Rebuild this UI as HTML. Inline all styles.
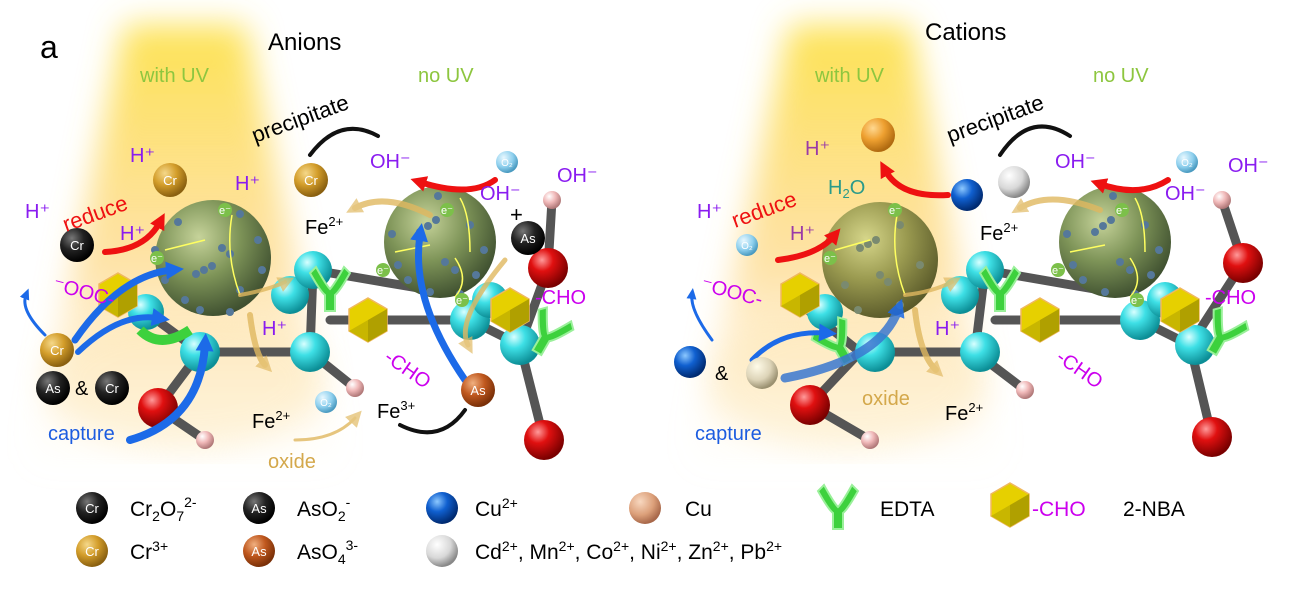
<!DOCTYPE html>
<html><head><meta charset="utf-8">
<style>
html,body{margin:0;padding:0;background:#fff;}
svg{display:block;font-family:"Liberation Sans",Arial,sans-serif;}
</style></head>
<body>
<svg width="1293" height="597" viewBox="0 0 1293 597" xmlns="http://www.w3.org/2000/svg">
<defs>
 <linearGradient id="beam" x1="0" y1="0" x2="0" y2="1">
  <stop offset="0" stop-color="#fde24a" stop-opacity="0.95"/>
  <stop offset="0.55" stop-color="#fdd070" stop-opacity="0.6"/>
  <stop offset="1" stop-color="#fff0d0" stop-opacity="0"/>
 </linearGradient>
 <filter id="blur"><feGaussianBlur stdDeviation="16"/></filter>
 <radialGradient id="olive" cx="0.38" cy="0.32" r="0.7">
  <stop offset="0" stop-color="#c6d39a"/><stop offset="0.5" stop-color="#7e9458"/><stop offset="1" stop-color="#3f5030"/>
 </radialGradient>
 <radialGradient id="olive2" cx="0.38" cy="0.32" r="0.7">
  <stop offset="0" stop-color="#d6d68a"/><stop offset="0.5" stop-color="#9a9a50"/><stop offset="1" stop-color="#5a5a2a"/>
 </radialGradient>
 <radialGradient id="cyan" cx="0.35" cy="0.3" r="0.7">
  <stop offset="0" stop-color="#d8ffff"/><stop offset="0.4" stop-color="#3ee0e6"/><stop offset="1" stop-color="#0c8e96"/>
 </radialGradient>
 <radialGradient id="red" cx="0.35" cy="0.3" r="0.7">
  <stop offset="0" stop-color="#ff9a9a"/><stop offset="0.4" stop-color="#e01010"/><stop offset="1" stop-color="#7a0000"/>
 </radialGradient>
 <radialGradient id="pink" cx="0.35" cy="0.3" r="0.7">
  <stop offset="0" stop-color="#fff"/><stop offset="0.5" stop-color="#f0b8b8"/><stop offset="1" stop-color="#b07878"/>
 </radialGradient>
 <radialGradient id="blk" cx="0.35" cy="0.3" r="0.7">
  <stop offset="0" stop-color="#777"/><stop offset="0.5" stop-color="#222"/><stop offset="1" stop-color="#000"/>
 </radialGradient>
 <radialGradient id="gold" cx="0.35" cy="0.3" r="0.7">
  <stop offset="0" stop-color="#f5d88a"/><stop offset="0.5" stop-color="#d39d2a"/><stop offset="1" stop-color="#8a6010"/>
 </radialGradient>
 <radialGradient id="orng" cx="0.35" cy="0.3" r="0.7">
  <stop offset="0" stop-color="#f0b080"/><stop offset="0.5" stop-color="#c0581e"/><stop offset="1" stop-color="#7a3008"/>
 </radialGradient>
 <radialGradient id="orball" cx="0.35" cy="0.3" r="0.7">
  <stop offset="0" stop-color="#ffd890"/><stop offset="0.5" stop-color="#eea030"/><stop offset="1" stop-color="#b06a10"/>
 </radialGradient>
 <radialGradient id="blue" cx="0.35" cy="0.3" r="0.7">
  <stop offset="0" stop-color="#8cc8ff"/><stop offset="0.45" stop-color="#1060d0"/><stop offset="1" stop-color="#002a70"/>
 </radialGradient>
 <radialGradient id="white" cx="0.35" cy="0.3" r="0.7">
  <stop offset="0" stop-color="#fff"/><stop offset="0.6" stop-color="#d8d8d8"/><stop offset="1" stop-color="#888"/>
 </radialGradient>
 <radialGradient id="beige" cx="0.35" cy="0.3" r="0.7">
  <stop offset="0" stop-color="#fffbe8"/><stop offset="0.6" stop-color="#ddd4b8"/><stop offset="1" stop-color="#9a9070"/>
 </radialGradient>
 <radialGradient id="copper" cx="0.35" cy="0.3" r="0.7">
  <stop offset="0" stop-color="#f8d8c0"/><stop offset="0.6" stop-color="#dca07a"/><stop offset="1" stop-color="#a8684a"/>
 </radialGradient>
 <radialGradient id="o2" cx="0.35" cy="0.3" r="0.7">
  <stop offset="0" stop-color="#e8f8ff"/><stop offset="0.6" stop-color="#8fd0ee"/><stop offset="1" stop-color="#4a9ac0"/>
 </radialGradient>
 <marker id="ar" markerUnits="userSpaceOnUse" markerWidth="18" markerHeight="18" refX="6" refY="9" orient="auto"><path d="M0,1 L16,9 L0,17 z" fill="#ee1111"/></marker>
 <marker id="ab" markerUnits="userSpaceOnUse" markerWidth="20" markerHeight="20" refX="6" refY="10" orient="auto"><path d="M0,1 L18,10 L0,19 z" fill="#1c6ae8"/></marker>
 <marker id="abs" markerUnits="userSpaceOnUse" markerWidth="12" markerHeight="12" refX="4" refY="6" orient="auto"><path d="M0,1 L11,6 L0,11 z" fill="#1c6ae8"/></marker>
 <marker id="ay" markerUnits="userSpaceOnUse" markerWidth="18" markerHeight="18" refX="6" refY="9" orient="auto"><path d="M0,1 L16,9 L0,17 z" fill="#e0b860" opacity="0.85"/></marker>
 <g id="hex"><polygon points="0,-22 19,-11 19,11 0,22 -19,11 -19,-11" fill="#e6d000" stroke="#f0b860" stroke-width="1.5"/><polygon points="0,0 19,-11 19,11 0,22" fill="#b0a000"/><polygon points="0,0 0,22 -19,11" fill="#c8b600"/></g>
 <g id="edta"><path d="M-14,-18 Q-4,0 0,4 Q4,0 14,-18 L20,-12 Q10,6 5,10 L5,26 L-5,26 L-5,10 Q-10,6 -20,-12 Z" fill="#3dd13d" stroke="#9af09a" stroke-width="2"/></g>
</defs>

<!-- light beams -->
<polygon points="125,25 245,25 340,470 30,470" fill="url(#beam)" filter="url(#blur)"/>
<ellipse cx="185" cy="380" rx="140" ry="70" fill="#fde0a0" opacity="0.35" filter="url(#blur)"/>
<polygon points="790,25 910,25 1000,470 690,470" fill="url(#beam)" filter="url(#blur)"/>
<ellipse cx="848" cy="380" rx="140" ry="70" fill="#fde0a0" opacity="0.35" filter="url(#blur)"/>

<!-- LEFT STRUCTURE -->
<g stroke="#555" stroke-width="9" stroke-linecap="round">
 <line x1="146" y1="312" x2="200" y2="352"/><line x1="200" y1="352" x2="310" y2="352"/>
 <line x1="310" y1="352" x2="313" y2="270"/><line x1="313" y1="270" x2="430" y2="290"/>
 <line x1="310" y1="352" x2="355" y2="388"/><line x1="200" y1="352" x2="158" y2="408"/>
 <line x1="158" y1="408" x2="205" y2="440"/><line x1="330" y1="320" x2="470" y2="320"/>
 <line x1="470" y1="320" x2="520" y2="345"/><line x1="520" y1="345" x2="544" y2="440"/>
 <line x1="520" y1="345" x2="548" y2="268"/><line x1="548" y1="268" x2="552" y2="200"/>
</g>
<circle cx="146" cy="312" r="18" fill="url(#cyan)"/>
<circle cx="200" cy="352" r="20" fill="url(#cyan)"/>
<circle cx="290" cy="295" r="19" fill="url(#cyan)"/>
<circle cx="313" cy="270" r="19" fill="url(#cyan)"/>
<circle cx="310" cy="352" r="20" fill="url(#cyan)"/>
<circle cx="470" cy="320" r="20" fill="url(#cyan)"/>
<circle cx="490" cy="300" r="18" fill="url(#cyan)"/>
<circle cx="520" cy="345" r="20" fill="url(#cyan)"/>
<use href="#hex" x="118" y="295"/>
<use href="#hex" x="368" y="320"/>
<use href="#hex" x="510" y="310"/>
<use href="#edta" x="330" y="285"/>
<use href="#edta" x="550" y="330" transform="rotate(30 550 330)"/>
<path d="M140,330 Q160,350 190,330" stroke="#3dd13d" stroke-width="10" fill="none"/>
<circle cx="158" cy="408" r="20" fill="url(#red)"/>
<circle cx="548" cy="268" r="20" fill="url(#red)"/>
<circle cx="544" cy="440" r="20" fill="url(#red)"/>
<circle cx="205" cy="440" r="9" fill="url(#pink)"/>
<circle cx="355" cy="388" r="9" fill="url(#pink)"/>
<circle cx="552" cy="200" r="9" fill="url(#pink)"/>

<!-- left spheres -->
<circle cx="213" cy="258" r="58" fill="url(#olive)"/>
<circle cx="440" cy="242" r="56" fill="url(#olive)"/>
<g fill="#55789a">
 <circle cx="178" cy="222" r="4"/><circle cx="196" cy="274" r="4"/><circle cx="204" cy="270" r="4"/><circle cx="212" cy="266" r="4"/>
 <circle cx="222" cy="248" r="4"/><circle cx="230" cy="254" r="4"/><circle cx="240" cy="290" r="4"/><circle cx="165" cy="280" r="4"/>
 <circle cx="258" cy="240" r="4"/><circle cx="262" cy="270" r="4"/><circle cx="200" cy="310" r="4"/><circle cx="185" cy="300" r="4"/>
 <circle cx="240" cy="214" r="4"/><circle cx="155" cy="250" r="4"/><circle cx="230" cy="312" r="4"/>
 <circle cx="420" cy="232" r="4"/><circle cx="428" cy="226" r="4"/><circle cx="436" cy="220" r="4"/><circle cx="445" cy="262" r="4"/>
 <circle cx="455" cy="270" r="4"/><circle cx="398" cy="265" r="4"/><circle cx="408" cy="280" r="4"/><circle cx="470" cy="225" r="4"/>
 <circle cx="484" cy="250" r="4"/><circle cx="430" cy="292" r="4"/><circle cx="460" cy="294" r="4"/><circle cx="392" cy="234" r="4"/>
 <circle cx="438" cy="196" r="4"/><circle cx="476" cy="275" r="4"/>
</g>
<g fill="none" stroke="#ffff60" stroke-width="1.5">
 <path d="M240,295 Q225,255 232,215"/><path d="M205,240 L165,250"/>
 <path d="M470,252 Q470,215 460,198"/><path d="M430,245 L395,252"/><path d="M455,258 Q470,280 455,297"/>
</g>
<g font-size="11" fill="#fff" text-anchor="middle">
 <circle cx="157" cy="258" r="7" fill="#7cc04a"/><text x="157" y="262">e⁻</text>
 <circle cx="225" cy="210" r="7" fill="#7cc04a"/><text x="225" y="214">e⁻</text>
 <circle cx="447" cy="210" r="7" fill="#7cc04a"/><text x="447" y="214">e⁻</text>
 <circle cx="383" cy="270" r="7" fill="#7cc04a"/><text x="383" y="274">e⁻</text>
 <circle cx="462" cy="300" r="7" fill="#7cc04a"/><text x="462" y="304">e⁻</text>
</g>

<!-- left arrows -->
<g fill="none" stroke-linecap="round">
 <path d="M105,252 Q145,250 160,222" stroke="#ee1111" stroke-width="6" marker-end="url(#ar)"/>
 <path d="M495,180 Q470,198 420,182" stroke="#ee1111" stroke-width="6" marker-end="url(#ar)"/>
 <path d="M378,136 Q340,115 310,155" stroke="#111" stroke-width="4"/>
 <path d="M465,410 Q440,445 400,425" stroke="#111" stroke-width="4"/>
 <path d="M75,340 Q120,275 172,270" stroke="#1c6ae8" stroke-width="7" marker-end="url(#ab)"/>
 <path d="M78,352 Q120,312 158,318" stroke="#1c6ae8" stroke-width="6" marker-end="url(#ab)"/>
 <path d="M130,440 Q200,420 205,345" stroke="#1c6ae8" stroke-width="8" marker-end="url(#ab)"/>
 <path d="M45,335 Q20,310 26,295" stroke="#1c6ae8" stroke-width="3" marker-end="url(#abs)"/>
 <path d="M465,380 Q410,300 420,235" stroke="#1c6ae8" stroke-width="7" marker-end="url(#ab)"/>
 <path d="M430,215 Q385,192 355,208" stroke="#e0b860" stroke-width="6" opacity="0.8" marker-end="url(#ay)"/>
 <path d="M240,295 Q268,290 285,282" stroke="#e0b860" stroke-width="4" opacity="0.8" marker-end="url(#ay)"/>
 <path d="M250,315 Q255,355 265,365" stroke="#e0b860" stroke-width="6" opacity="0.8" marker-end="url(#ay)"/>
 <path d="M505,260 Q455,320 468,345" stroke="#e0b860" stroke-width="5" opacity="0.8" marker-end="url(#ay)"/>
 <path d="M295,440 Q335,440 355,418" stroke="#e0b860" stroke-width="3" opacity="0.8" marker-end="url(#ay)"/>
</g>

<!-- left ions -->
<g font-size="13" fill="#fff" text-anchor="middle">
 <circle cx="170" cy="180" r="17" fill="url(#gold)"/><text x="170" y="185">Cr</text>
 <circle cx="311" cy="180" r="17" fill="url(#gold)"/><text x="311" y="185">Cr</text>
 <circle cx="77" cy="245" r="17" fill="url(#blk)"/><text x="77" y="250">Cr</text>
 <circle cx="57" cy="350" r="17" fill="url(#gold)"/><text x="57" y="355">Cr</text>
 <circle cx="53" cy="388" r="17" fill="url(#blk)"/><text x="53" y="393">As</text>
 <circle cx="112" cy="388" r="17" fill="url(#blk)"/><text x="112" y="393">Cr</text>
 <circle cx="528" cy="238" r="17" fill="url(#blk)"/><text x="528" y="243">As</text>
 <circle cx="478" cy="390" r="17" fill="url(#orng)"/><text x="478" y="395">As</text>
 <circle cx="507" cy="162" r="11" fill="url(#o2)"/><text x="507" y="166" font-size="10">O₂</text>
 <circle cx="326" cy="402" r="11" fill="url(#o2)"/><text x="326" y="406" font-size="10">O₂</text>
</g>

<!-- left labels -->
<g font-size="20">
 <text x="40" y="58" font-size="32">a</text>
 <text x="268" y="50" font-size="24">Anions</text>
 <text x="140" y="82" fill="#8dc63f">with UV</text>
 <text x="418" y="82" fill="#8dc63f">no UV</text>
 <text x="255" y="143" font-size="22" transform="rotate(-20 255 143)">precipitate</text>
 <text x="66" y="232" fill="#ee1111" font-size="22" transform="rotate(-20 66 232)">reduce</text>
 <g fill="#8a1cf0">
  <text x="130" y="162">H⁺</text><text x="25" y="218">H⁺</text><text x="120" y="240">H⁺</text>
  <text x="235" y="190">H⁺</text><text x="262" y="335">H⁺</text>
  <text x="370" y="168">OH⁻</text><text x="480" y="200">OH⁻</text><text x="557" y="182">OH⁻</text>
 </g>
 <text x="510" y="222" font-size="22">+</text>
 <g fill="#cc00ee">
  <text x="52" y="290" transform="rotate(15 52 290)">⁻OOC-</text>
  <text x="383" y="360" transform="rotate(35 383 360)">-CHO</text>
  <text x="535" y="304">-CHO</text>
 </g>
 <text x="305" y="234">Fe<tspan font-size="13" dy="-8">2+</tspan></text>
 <text x="252" y="428">Fe<tspan font-size="13" dy="-8">2+</tspan></text>
 <text x="377" y="418">Fe<tspan font-size="13" dy="-8">3+</tspan></text>
 <text x="268" y="468" fill="#d4a84b">oxide</text>
 <text x="48" y="440" fill="#1c5ce0">capture</text>
</g>

<!-- RIGHT STRUCTURE -->
<g stroke="#555" stroke-width="9" stroke-linecap="round">
 <line x1="810" y1="312" x2="860" y2="352"/><line x1="860" y1="352" x2="975" y2="352"/>
 <line x1="975" y1="352" x2="985" y2="270"/><line x1="985" y1="270" x2="1100" y2="290"/>
 <line x1="975" y1="352" x2="1025" y2="390"/><line x1="860" y1="352" x2="810" y2="405"/>
 <line x1="810" y1="405" x2="870" y2="440"/><line x1="995" y1="320" x2="1140" y2="320"/>
 <line x1="1140" y1="320" x2="1190" y2="345"/><line x1="1190" y1="345" x2="1212" y2="437"/>
 <line x1="1190" y1="345" x2="1243" y2="263"/><line x1="1243" y1="263" x2="1222" y2="200"/>
</g>
<circle cx="825" cy="312" r="18" fill="url(#cyan)"/>
<circle cx="875" cy="352" r="20" fill="url(#cyan)"/>
<circle cx="960" cy="295" r="19" fill="url(#cyan)"/>
<circle cx="985" cy="270" r="19" fill="url(#cyan)"/>
<circle cx="980" cy="352" r="20" fill="url(#cyan)"/>
<circle cx="1140" cy="320" r="20" fill="url(#cyan)"/>
<circle cx="1165" cy="300" r="18" fill="url(#cyan)"/>
<circle cx="1195" cy="345" r="20" fill="url(#cyan)"/>
<use href="#hex" x="800" y="295"/>
<use href="#hex" x="1040" y="320"/>
<use href="#hex" x="1180" y="310"/>
<use href="#edta" x="1000" y="285"/>
<use href="#edta" x="1225" y="330" transform="rotate(30 1225 330)"/>
<use href="#edta" x="835" y="340" transform="rotate(-30 835 340)"/>
<circle cx="810" cy="405" r="20" fill="url(#red)"/>
<circle cx="1243" cy="263" r="20" fill="url(#red)"/>
<circle cx="1212" cy="437" r="20" fill="url(#red)"/>
<circle cx="870" cy="440" r="9" fill="url(#pink)"/>
<circle cx="1025" cy="390" r="9" fill="url(#pink)"/>
<circle cx="1222" cy="200" r="9" fill="url(#pink)"/>

<circle cx="880" cy="260" r="58" fill="url(#olive2)"/>
<circle cx="1115" cy="242" r="56" fill="url(#olive)"/>
<g fill="#7a8a70">
 <circle cx="860" cy="248" r="4"/><circle cx="868" cy="244" r="4"/><circle cx="876" cy="240" r="4"/><circle cx="880" cy="275" r="4"/>
 <circle cx="888" cy="282" r="4"/><circle cx="900" cy="225" r="4"/><circle cx="845" cy="285" r="4"/><circle cx="920" cy="265" r="4"/>
 <circle cx="900" cy="305" r="4"/><circle cx="858" cy="310" r="4"/>
</g>
<g fill="#55789a">
 <circle cx="1095" cy="232" r="4"/><circle cx="1103" cy="226" r="4"/><circle cx="1111" cy="220" r="4"/><circle cx="1120" cy="262" r="4"/>
 <circle cx="1130" cy="270" r="4"/><circle cx="1073" cy="265" r="4"/><circle cx="1083" cy="280" r="4"/><circle cx="1145" cy="225" r="4"/>
 <circle cx="1159" cy="250" r="4"/><circle cx="1105" cy="292" r="4"/><circle cx="1135" cy="294" r="4"/><circle cx="1067" cy="234" r="4"/>
 <circle cx="1113" cy="196" r="4"/><circle cx="1151" cy="275" r="4"/>
</g>
<g fill="none" stroke="#ffff60" stroke-width="1.5">
 <path d="M905,295 Q890,255 897,215"/><path d="M870,240 L835,250"/>
 <path d="M1145,252 Q1145,215 1135,198"/><path d="M1105,245 L1070,252"/><path d="M1130,258 Q1145,280 1130,297"/>
</g>
<g font-size="11" fill="#fff" text-anchor="middle">
 <circle cx="830" cy="258" r="7" fill="#7cc04a"/><text x="830" y="262">e⁻</text>
 <circle cx="895" cy="210" r="7" fill="#7cc04a"/><text x="895" y="214">e⁻</text>
 <circle cx="1122" cy="210" r="7" fill="#7cc04a"/><text x="1122" y="214">e⁻</text>
 <circle cx="1058" cy="270" r="7" fill="#7cc04a"/><text x="1058" y="274">e⁻</text>
 <circle cx="1137" cy="300" r="7" fill="#7cc04a"/><text x="1137" y="304">e⁻</text>
</g>

<g fill="none" stroke-linecap="round">
 <path d="M778,260 Q818,255 834,236" stroke="#ee1111" stroke-width="6" marker-end="url(#ar)"/>
 <path d="M948,195 Q900,198 885,170" stroke="#ee1111" stroke-width="6" marker-end="url(#ar)"/>
 <path d="M1168,180 Q1140,198 1100,184" stroke="#ee1111" stroke-width="6" marker-end="url(#ar)"/>
 <path d="M1070,136 Q1030,110 1000,155" stroke="#111" stroke-width="4"/>
 <path d="M712,340 Q690,310 692,295" stroke="#1c6ae8" stroke-width="3" marker-end="url(#abs)"/>
 <path d="M752,360 Q780,330 825,333" stroke="#1c6ae8" stroke-width="5" marker-end="url(#ab)"/>
 <path d="M785,378 Q880,360 898,310" stroke="#3a78d0" stroke-width="9" opacity="0.85" marker-end="url(#ab)"/>
 <path d="M1100,210 Q1050,190 1020,208" stroke="#e0b860" stroke-width="6" opacity="0.8" marker-end="url(#ay)"/>
 <path d="M905,295 Q932,292 952,282" stroke="#e0b860" stroke-width="4" opacity="0.8" marker-end="url(#ay)"/>
 <path d="M915,310 Q920,355 936,370" stroke="#e0b860" stroke-width="6" opacity="0.8" marker-end="url(#ay)"/>
</g>

<g font-size="10" fill="#fff" text-anchor="middle">
 <circle cx="878" cy="135" r="17" fill="url(#orball)"/>
 <circle cx="967" cy="195" r="16" fill="url(#blue)"/>
 <circle cx="1014" cy="182" r="16" fill="url(#white)"/>
 <circle cx="690" cy="362" r="16" fill="url(#blue)"/>
 <circle cx="762" cy="373" r="16" fill="url(#beige)"/>
 <circle cx="747" cy="245" r="11" fill="url(#o2)"/><text x="747" y="249">O₂</text>
 <circle cx="1187" cy="162" r="11" fill="url(#o2)"/><text x="1187" y="166">O₂</text>
</g>

<g font-size="20">
 <text x="925" y="40" font-size="24">Cations</text>
 <text x="815" y="82" fill="#8dc63f">with UV</text>
 <text x="1093" y="82" fill="#8dc63f">no UV</text>
 <text x="950" y="143" font-size="22" transform="rotate(-20 950 143)">precipitate</text>
 <text x="735" y="228" fill="#ee1111" font-size="22" transform="rotate(-20 735 228)">reduce</text>
 <text x="828" y="194" fill="#2a9a8a">H<tspan font-size="13" dy="4">2</tspan><tspan dy="-4">O</tspan></text>
 <g fill="#8a1cf0">
  <text x="805" y="155" fill="#9a3aa8">H⁺</text><text x="697" y="218">H⁺</text><text x="790" y="240" fill="#9a3aa8">H⁺</text>
  <text x="935" y="335">H⁺</text>
  <text x="1055" y="168">OH⁻</text><text x="1165" y="200">OH⁻</text><text x="1228" y="172">OH⁻</text>
 </g>
 <g fill="#cc00ee">
  <text x="700" y="290" transform="rotate(15 700 290)">⁻OOC-</text>
  <text x="1055" y="360" transform="rotate(35 1055 360)">-CHO</text>
  <text x="1205" y="304">-CHO</text>
 </g>
 <text x="715" y="380">&amp;</text>
 <text x="75" y="395">&amp;</text>
 <text x="980" y="240">Fe<tspan font-size="13" dy="-8">2+</tspan></text>
 <text x="945" y="420">Fe<tspan font-size="13" dy="-8">2+</tspan></text>
 <text x="862" y="405" fill="#d4a84b">oxide</text>
 <text x="695" y="440" fill="#1c5ce0">capture</text>
</g>

<!-- LEGEND -->
<g font-size="13" fill="#fff" text-anchor="middle">
 <circle cx="92" cy="508" r="16" fill="url(#blk)"/><text x="92" y="513">Cr</text>
 <circle cx="259" cy="508" r="16" fill="url(#blk)"/><text x="259" y="513">As</text>
 <circle cx="92" cy="551" r="16" fill="url(#gold)"/><text x="92" y="556">Cr</text>
 <circle cx="259" cy="551" r="16" fill="url(#orng)"/><text x="259" y="556">As</text>
 <circle cx="442" cy="508" r="16" fill="url(#blue)"/>
 <circle cx="442" cy="551" r="16" fill="url(#white)"/>
 <circle cx="645" cy="508" r="16" fill="url(#copper)"/>
</g>
<use href="#edta" x="838" y="503"/>
<use href="#hex" x="1010" y="505"/>
<g font-size="21">
 <text x="130" y="516">Cr<tspan font-size="14" dy="5">2</tspan><tspan dy="-5">O</tspan><tspan font-size="14" dy="5">7</tspan><tspan font-size="14" dy="-14">2-</tspan></text>
 <text x="297" y="516">AsO<tspan font-size="14" dy="5">2</tspan><tspan font-size="14" dy="-14">-</tspan></text>
 <text x="475" y="516">Cu<tspan font-size="14" dy="-8">2+</tspan></text>
 <text x="685" y="516">Cu</text>
 <text x="880" y="516">EDTA</text>
 <text x="1032" y="516" fill="#cc00ee">-CHO</text>
 <text x="1123" y="516">2-NBA</text>
 <text x="130" y="559">Cr<tspan font-size="14" dy="-8">3+</tspan></text>
 <text x="297" y="559">AsO<tspan font-size="14" dy="5">4</tspan><tspan font-size="14" dy="-14">3-</tspan></text>
 <text x="475" y="559">Cd<tspan font-size="14" dy="-8">2+</tspan><tspan dy="8">, Mn</tspan><tspan font-size="14" dy="-8">2+</tspan><tspan dy="8">, Co</tspan><tspan font-size="14" dy="-8">2+</tspan><tspan dy="8">, Ni</tspan><tspan font-size="14" dy="-8">2+</tspan><tspan dy="8">, Zn</tspan><tspan font-size="14" dy="-8">2+</tspan><tspan dy="8">, Pb</tspan><tspan font-size="14" dy="-8">2+</tspan></text>
</g>
</svg>
</body></html>
